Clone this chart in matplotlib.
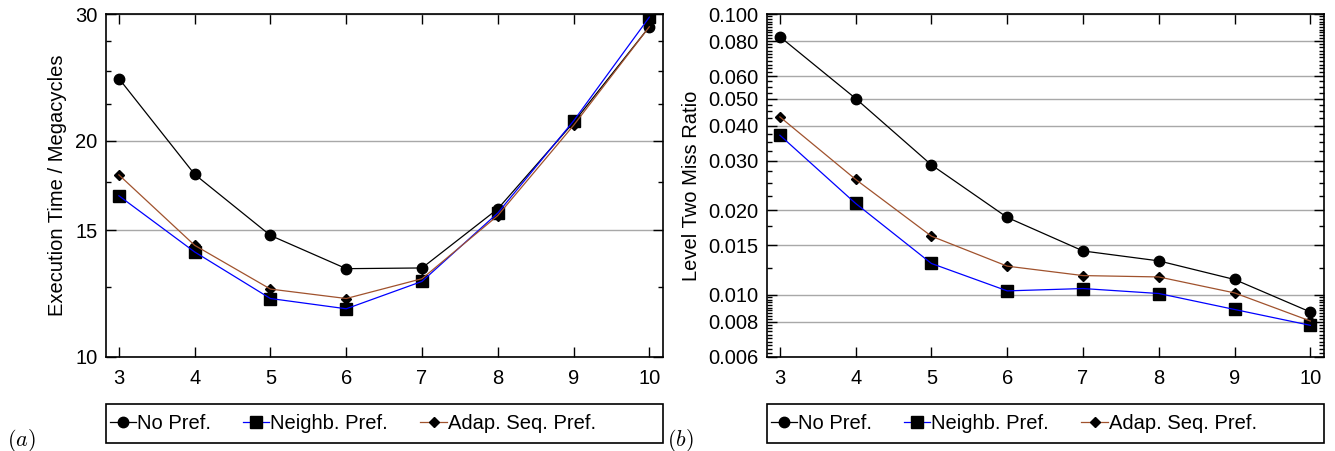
import matplotlib
matplotlib.use("Agg")
import matplotlib.pyplot as plt
from matplotlib.ticker import FixedLocator, FixedFormatter, NullFormatter
from matplotlib.lines import Line2D
from matplotlib.patches import Rectangle
import numpy as np

plt.rcParams['font.family'] = ['Liberation Sans', 'DejaVu Sans']
plt.rcParams['mathtext.fontset'] = 'cm'

# ---- data ----
x_vals = [3, 4, 5, 6, 7, 8, 9, 10]
series_names = ["No Pref.", "Neighb. Pref.", "Adap. Seq. Pref."]

exec_no_pref = [24.4, 17.95, 14.76, 13.27, 13.3, 16.07, 21.2, 28.8]
exec_neighb = [16.76, 14.0, 12.06, 11.67, 12.74, 15.86, 21.3, 29.7]
exec_adap = [17.92, 14.3, 12.43, 12.06, 12.85, 15.73, 21.0, 28.8]

miss_no_pref = [0.0830, 0.0500, 0.0290, 0.01885, 0.01432, 0.0132, 0.01133, 0.00868]
miss_neighb = [0.0370, 0.02114, 0.01292, 0.01032, 0.01052, 0.0101, 0.00886, 0.00778]
miss_adap = [0.0430, 0.02574, 0.01616, 0.01264, 0.0117, 0.01157, 0.01015, 0.00806]

left_major = [10, 15, 20, 30]
left_minor = [12.5, 17.5, 22.5, 25, 27.5]
right_major = [0.006, 0.008, 0.010, 0.015, 0.020, 0.030, 0.040, 0.050, 0.060, 0.080, 0.100]
right_major_labels = ["0.006", "0.008", "0.010", "0.015", "0.020", "0.030",
                      "0.040", "0.050", "0.060", "0.080", "0.100"]

colors = ["#000000", "#0000ff", "#a0522d"]
markers = ["o", "s", "D"]
msizes = [7.5, 8, 5.5]

# minor ticks for right axis
def _steps(a, b, s):
    n = int(round((b - a) / s))
    return [a + i * s for i in range(1, n)]

right_minor = []
for a, b in zip(right_major[:-1], right_major[1:]):
    if b <= 0.0101:
        right_minor += _steps(a, b, 0.0002)
    elif b <= 0.0601:
        right_minor += _steps(a, b, 0.0025)
    else:
        right_minor += _steps(a, b, 0.002)

fig = plt.figure(figsize=(13.35, 4.51), dpi=100)
W, H = 1335.0, 451.0
axA = fig.add_axes([106 / W, 1 - 357 / H, 557 / W, 343 / H])
axB = fig.add_axes([767 / W, 1 - 357 / H, 557 / W, 343 / H])

FS = 14.5


def style_axis(ax):
    for sp in ax.spines.values():
        sp.set_linewidth(1.2)
        sp.set_zorder(5)
    ax.tick_params(which='both', direction='in', top=True, right=True,
                   labelsize=FS, width=1.0, color='black')
    ax.tick_params(which='major', length=7)
    ax.tick_params(which='minor', length=3.5)
    ax.tick_params(axis='y', which='major', pad=6)
    ax.tick_params(axis='x', which='major', pad=9)
    ax.set_xlim(2.83, 10.18)
    ax.set_xticks(x_vals)
    ax.set_xticklabels([str(v) for v in x_vals])
    ax.xaxis.set_minor_locator(FixedLocator([]))
    ax.grid(True, axis='y', which='major', color='#a8a8a8', linewidth=1.0, zorder=0)
    ax.set_axisbelow(True)


def draw_series(ax, ys_list):
    for ys, c, m, ms in zip(ys_list, colors, markers, msizes):
        ax.plot(x_vals, ys, linestyle='none', marker=m, markersize=ms,
                markerfacecolor='black', markeredgecolor='black', zorder=3)
        ax.plot(x_vals, ys, color=c, linewidth=0.9, zorder=4)


def add_legend(ax):
    handles = [Line2D([0], [0], color=c, linewidth=0.9, marker=m, markersize=ms,
                      markerfacecolor='black', markeredgecolor='black')
               for c, m, ms in zip(colors, markers, msizes)]
    ax.legend(handles, series_names, loc='center left',
              bbox_to_anchor=(0.007, -0.195), frameon=False, ncol=3,
              fontsize=FS, handlelength=1.3, handletextpad=0.05,
              columnspacing=1.6, borderaxespad=0, borderpad=0)
    ax.add_patch(Rectangle((0, -0.2507), 1, 0.1137, transform=ax.transAxes,
                           fill=False, linewidth=1.2, edgecolor='black',
                           clip_on=False))


# ---- plot (a) ----
style_axis(axA)
axA.set_yscale('log')
axA.set_ylim(10, 30)
axA.yaxis.set_major_locator(FixedLocator(left_major))
axA.yaxis.set_major_formatter(FixedFormatter([str(v) for v in left_major]))
axA.yaxis.set_minor_locator(FixedLocator(left_minor))
axA.yaxis.set_minor_formatter(NullFormatter())
draw_series(axA, [exec_no_pref, exec_neighb, exec_adap])
axA.set_ylabel("Execution Time / Megacycles", fontsize=FS, labelpad=6)
add_legend(axA)

# ---- plot (b) ----
style_axis(axB)
axB.set_yscale('log')
axB.set_ylim(0.006, 0.1)
axB.yaxis.set_major_locator(FixedLocator(right_major))
axB.yaxis.set_major_formatter(FixedFormatter(right_major_labels))
axB.yaxis.set_minor_locator(FixedLocator(right_minor))
axB.yaxis.set_minor_formatter(NullFormatter())
draw_series(axB, [miss_no_pref, miss_neighb, miss_adap])
axB.set_ylabel("Level Two Miss Ratio", fontsize=FS, labelpad=5)
add_legend(axB)

fig.text(7 / W, 1 - 440 / H, r"$(a)$", fontsize=16, ha='left', va='center')
fig.text(667 / W, 1 - 440 / H, r"$(b)$", fontsize=16, ha='left', va='center')

fig.savefig("out.png", dpi=100)
